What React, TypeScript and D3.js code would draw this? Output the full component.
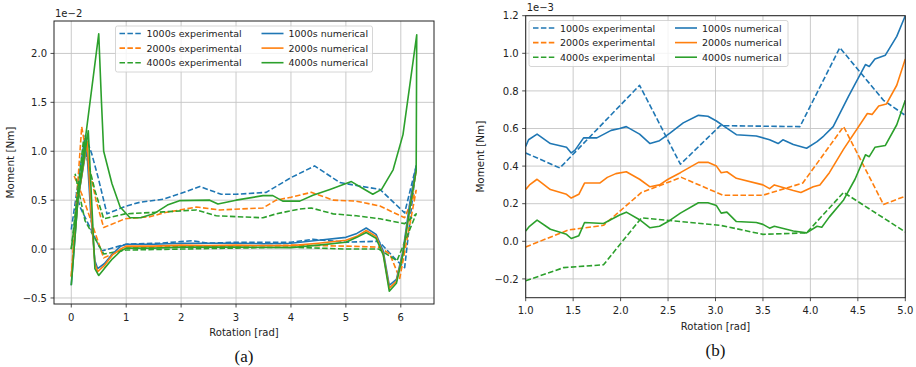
import * as d3 from "d3";

const BLUE = "#1f77b4";
const ORANGE = "#ff7f0e";
const GREEN = "#2ca02c";

const expLabels = ["1000s experimental", "2000s experimental", "4000s experimental"];
const numLabels = ["1000s numerical", "2000s numerical", "4000s numerical"];

// ---- panel (a): full rotation, moment in 1e-2 Nm
const aBlueExpX = [0.0, 0.25, 0.37, 0.49, 0.65, 1.0, 1.26, 1.68, 2.0, 2.34, 2.73, 3.0, 3.55, 4.0, 4.43, 4.89, 5.19, 5.62, 6.07, 6.28, 6.07, 5.93, 5.6, 5.0, 4.4, 4.0, 3.0, 2.5, 2.2, 1.6, 1.0, 0.55, 0.16, 0.08];
const aBlueExpY = [0.2, 1.16, 0.98, 0.73, 0.36, 0.44, 0.48, 0.51, 0.57, 0.64, 0.56, 0.56, 0.58, 0.73, 0.85, 0.68, 0.65, 0.61, 0.37, 0.85, -0.19, -0.12, 0.08, 0.07, 0.1, 0.07, 0.07, 0.06, 0.085, 0.06, 0.05, -0.02, 0.43, 0.6];
const aOrangeExpX = [0.0, 0.19, 0.3, 0.45, 0.59, 0.98, 1.43, 1.68, 2.28, 2.7, 3.49, 3.73, 4.0, 4.37, 4.77, 5.19, 5.62, 6.07, 6.28, 5.98, 5.8, 5.6, 5.0, 4.0, 3.0, 2.0, 1.0, 0.59, 0.2, 0.05];
const aOrangeExpY = [-0.28, 1.25, 0.9, 0.5, 0.22, 0.31, 0.33, 0.37, 0.43, 0.4, 0.42, 0.5, 0.53, 0.58, 0.5, 0.49, 0.44, 0.32, 0.6, -0.3, -0.05, 0.02, 0.03, 0.04, 0.03, 0.03, 0.01, -0.09, 0.55, 0.75];
const aGreenExpX = [0.0, 0.22, 0.3, 0.43, 0.59, 0.98, 1.68, 2.28, 2.64, 3.49, 3.73, 4.16, 4.37, 4.77, 5.19, 5.62, 6.07, 6.28, 5.93, 5.6, 5.0, 4.0, 3.0, 2.0, 1.0, 0.59, 0.25, 0.07];
const aGreenExpY = [0.0, 1.1, 0.9, 0.6, 0.31, 0.36, 0.38, 0.4, 0.34, 0.32, 0.36, 0.41, 0.42, 0.36, 0.34, 0.31, 0.26, 0.36, -0.12, 0.0, 0.0, 0.02, 0.01, 0.0, -0.01, -0.05, 0.29, 0.77];

const aBlueNumX = [0, 0.12, 0.28, 0.35, 0.43, 0.48, 0.6, 0.75, 0.9, 1.0, 1.5, 2.0, 2.5, 3.0, 3.5, 4.0, 4.5, 5.0, 5.2, 5.37, 5.55, 5.68, 5.79, 5.92, 6.04, 6.16, 6.28];
const aBlueNumY = [-0.37, 0.5, 1.05, 0.4, -0.12, -0.2, -0.15, -0.05, 0.03, 0.05, 0.05, 0.06, 0.06, 0.06, 0.055, 0.06, 0.09, 0.12, 0.16, 0.215, 0.15, -0.02, -0.37, -0.31, -0.02, 0.46, 0.85];
const aOrangeNumX = [0, 0.12, 0.29, 0.36, 0.43, 0.48, 0.6, 0.75, 0.9, 1.0, 1.5, 2.0, 2.5, 3.0, 3.5, 4.0, 4.5, 5.0, 5.2, 5.37, 5.55, 5.68, 5.79, 5.92, 6.04, 6.16, 6.28];
const aOrangeNumY = [-0.28, 0.5, 1.1, 0.4, -0.15, -0.23, -0.17, -0.06, 0.0, 0.03, 0.03, 0.04, 0.035, 0.04, 0.035, 0.035, 0.06, 0.09, 0.13, 0.19, 0.13, -0.05, -0.4, -0.33, -0.05, 0.4, 0.8];
const aGreenNumX = [0, 0.5, 0.55, 0.59, 0.74, 0.89, 1.07, 1.26, 1.5, 1.75, 1.97, 2.52, 2.67, 3.0, 3.49, 3.67, 3.85, 4.16, 4.4, 4.71, 5.1, 5.28, 5.49, 5.65, 5.86, 6.04, 6.29, 6.28, 6.16, 6.04, 5.92, 5.79, 5.68, 5.55, 5.37, 5.2, 5.0, 4.5, 4.0, 3.0, 2.0, 1.5, 1.0, 0.9, 0.75, 0.6, 0.5, 0.43, 0.31, 0.12, 0];
const aGreenNumY = [0.0, 2.2, 1.5, 1.0, 0.67, 0.43, 0.32, 0.32, 0.36, 0.45, 0.495, 0.5, 0.46, 0.5, 0.546, 0.546, 0.49, 0.49, 0.55, 0.61, 0.69, 0.63, 0.56, 0.61, 0.81, 1.17, 2.19, 0.8, 0.4, -0.05, -0.35, -0.43, -0.06, 0.11, 0.17, 0.12, 0.07, 0.04, 0.015, 0.02, 0.02, 0.01, 0.01, -0.02, -0.1, -0.2, -0.27, -0.2, 1.21, 0.5, -0.37];

// ---- panel (b): zoom on 1..5 rad, moment in 1e-3 Nm
const bBlueExpX = [1.0, 1.36, 2.2, 2.63, 3.05, 3.89, 4.31, 4.77, 5.0];
const bBlueExpY = [0.47, 0.39, 0.83, 0.41, 0.615, 0.61, 1.03, 0.75, 0.67];
const bOrangeExpX = [1.0, 1.45, 1.82, 2.22, 2.64, 3.08, 3.5, 3.92, 4.35, 4.77, 5.0];
const bOrangeExpY = [-0.03, 0.06, 0.085, 0.26, 0.34, 0.245, 0.245, 0.31, 0.61, 0.196, 0.24];
const bGreenExpX = [1.0, 1.4, 1.82, 2.22, 3.05, 3.5, 3.96, 4.35, 5.0];
const bGreenExpY = [-0.21, -0.14, -0.125, 0.125, 0.085, 0.037, 0.045, 0.26, 0.05];

const bBlueNumX = [1.0, 1.03, 1.12, 1.26, 1.43, 1.48, 1.52, 1.61, 1.75, 1.9, 1.99, 2.06, 2.2, 2.31, 2.41, 2.52, 2.66, 2.82, 2.92, 3.01, 3.08, 3.22, 3.43, 3.57, 3.66, 3.71, 3.82, 3.96, 4.07, 4.14, 4.24, 4.4, 4.58, 4.62, 4.68, 4.79, 4.91, 5.0];
const bBlueNumY = [0.505, 0.54, 0.57, 0.52, 0.5, 0.47, 0.485, 0.55, 0.55, 0.59, 0.6, 0.61, 0.57, 0.52, 0.535, 0.575, 0.63, 0.67, 0.665, 0.64, 0.615, 0.567, 0.56, 0.54, 0.52, 0.54, 0.515, 0.495, 0.53, 0.56, 0.61, 0.77, 0.94, 0.93, 0.97, 0.99, 1.09, 1.2];
const bOrangeNumX = [1.0, 1.04, 1.12, 1.26, 1.43, 1.48, 1.56, 1.62, 1.78, 1.86, 1.95, 2.06, 2.2, 2.31, 2.41, 2.5, 2.63, 2.82, 2.92, 3.01, 3.06, 3.12, 3.22, 3.5, 3.57, 3.62, 3.82, 3.9, 4.03, 4.1, 4.2, 4.35, 4.6, 4.65, 4.72, 4.8, 4.91, 5.0];
const bOrangeNumY = [0.275, 0.3, 0.33, 0.275, 0.25, 0.23, 0.25, 0.31, 0.31, 0.34, 0.36, 0.37, 0.33, 0.29, 0.3, 0.33, 0.365, 0.42, 0.42, 0.4, 0.365, 0.37, 0.335, 0.3, 0.28, 0.3, 0.27, 0.26, 0.29, 0.3, 0.365, 0.49, 0.68, 0.675, 0.72, 0.73, 0.83, 0.97];
const bGreenNumX = [1.0, 1.04, 1.12, 1.26, 1.43, 1.48, 1.56, 1.62, 1.82, 1.99, 2.06, 2.2, 2.31, 2.41, 2.5, 2.63, 2.82, 2.92, 3.01, 3.06, 3.12, 3.22, 3.43, 3.5, 3.57, 3.62, 3.82, 3.96, 4.07, 4.12, 4.2, 4.35, 4.47, 4.58, 4.62, 4.68, 4.79, 4.91, 5.0];
const bGreenNumY = [0.055, 0.08, 0.113, 0.064, 0.037, 0.015, 0.03, 0.1, 0.095, 0.14, 0.155, 0.115, 0.072, 0.08, 0.105, 0.15, 0.205, 0.205, 0.19, 0.15, 0.155, 0.105, 0.1, 0.09, 0.07, 0.08, 0.055, 0.045, 0.08, 0.075, 0.13, 0.22, 0.33, 0.46, 0.45, 0.5, 0.51, 0.62, 0.75];

const aTicksX = [0, 1, 2, 3, 4, 5, 6];
const aTicksY = [-0.5, 0, 0.5, 1.0, 1.5, 2.0];
const bTicksX = [1.0, 1.5, 2.0, 2.5, 3.0, 3.5, 4.0, 4.5, 5.0];
const bTicksY = [-0.2, 0, 0.2, 0.4, 0.6, 0.8, 1.0, 1.2];

type Series = { x: number[]; y: number[]; color: string; dashed: boolean };

const FONT = "DejaVu Sans";
const FS = 10;
const LEG_FS = 9.5;
const DASH = "5.5,2.4";

const minus = (s: string) => s.replace("-", "\u2212");

function Panel(props: {
  id: string;
  box: { left: number; top: number; right: number; bottom: number };
  xDomain: [number, number];
  yDomain: [number, number];
  xTicks: number[];
  yTicks: number[];
  xFmt: (v: number) => string;
  series: Series[];
  legend: { x: number; y: number; w: number };
  offset: string;
  caption: string;
  ylabelX: number;
}) {
  const { id, box, series, legend } = props;
  const x = d3.scaleLinear().domain(props.xDomain).range([box.left, box.right]);
  const y = d3.scaleLinear().domain(props.yDomain).range([box.bottom, box.top]);
  const line = d3
    .line<[number, number]>()
    .x((d) => x(d[0]))
    .y((d) => y(d[1]));
  const yFmt = d3.format(".1f");
  const cx = (box.left + box.right) / 2;
  const cy = (box.top + box.bottom) / 2;
  const colors = [BLUE, ORANGE, GREEN];

  return (
    <g fontFamily={FONT} fontSize={FS} fill="#222">
      <defs>
        <clipPath id={`clip-${id}`}>
          <rect x={box.left} y={box.top} width={box.right - box.left} height={box.bottom - box.top} />
        </clipPath>
      </defs>
      {/* grid */}
      {props.xTicks.map((t) => (
        <line key={`gx${t}`} x1={x(t)} x2={x(t)} y1={box.top} y2={box.bottom} stroke="#c4c4c4" strokeWidth={0.9} />
      ))}
      {props.yTicks.map((t) => (
        <line key={`gy${t}`} x1={box.left} x2={box.right} y1={y(t)} y2={y(t)} stroke="#c4c4c4" strokeWidth={0.9} />
      ))}
      {/* data */}
      <g clipPath={`url(#clip-${id})`} fill="none">
        {series.map((s, i) => (
          <path
            key={i}
            d={line(s.x.map((v, j) => [v, s.y[j]] as [number, number])) ?? ""}
            stroke={s.color}
            strokeWidth={1.6}
            strokeDasharray={s.dashed ? DASH : undefined}
            strokeLinejoin="round"
          />
        ))}
      </g>
      {/* frame */}
      <rect x={box.left} y={box.top} width={box.right - box.left} height={box.bottom - box.top} fill="none" stroke="#222" strokeWidth={1} />
      {/* ticks */}
      {props.xTicks.map((t) => (
        <g key={`tx${t}`}>
          <line x1={x(t)} x2={x(t)} y1={box.bottom} y2={box.bottom + 3.5} stroke="#222" strokeWidth={0.8} />
          <text x={x(t)} y={box.bottom + 16.5} textAnchor="middle">
            {props.xFmt(t)}
          </text>
        </g>
      ))}
      {props.yTicks.map((t) => (
        <g key={`ty${t}`}>
          <line x1={box.left - 3.5} x2={box.left} y1={y(t)} y2={y(t)} stroke="#222" strokeWidth={0.8} />
          <text x={box.left - 7} y={y(t) + 3.6} textAnchor="end">
            {minus(yFmt(t))}
          </text>
        </g>
      ))}
      <text x={box.left + 1} y={box.top - 4.5}>
        {props.offset}
      </text>
      <text x={cx} y={box.bottom + 32} textAnchor="middle">
        Rotation [rad]
      </text>
      <text transform={`translate(${props.ylabelX},${cy}) rotate(-90)`} textAnchor="middle" fontSize={10.4}>
        Moment [Nm]
      </text>
      {/* legend */}
      <rect x={legend.x} y={legend.y} width={legend.w} height={46} rx={2} fill="white" fillOpacity={0.8} stroke="#cccccc" strokeWidth={0.8} />
      {colors.map((c, i) => {
        const ry = legend.y + 7.5 + i * 14.6;
        return (
          <g key={`lg${i}`} fontSize={LEG_FS}>
            <line x1={legend.x + 4} x2={legend.x + 26} y1={ry} y2={ry} stroke={c} strokeWidth={1.6} strokeDasharray={DASH} />
            <text x={legend.x + 31} y={ry + 3.5}>
              {expLabels[i]}
            </text>
            <line x1={legend.x + 146} x2={legend.x + 168} y1={ry} y2={ry} stroke={c} strokeWidth={1.6} />
            <text x={legend.x + 173} y={ry + 3.5}>
              {numLabels[i]}
            </text>
          </g>
        );
      })}
      <text x={cx} y={box.bottom + 58} textAnchor="middle" fontFamily="Liberation Serif" fontSize={17} fill="#111">
        {props.caption}
      </text>
    </g>
  );
}

export default function App() {
  const aSeries: Series[] = [
    { x: aBlueExpX, y: aBlueExpY, color: BLUE, dashed: true },
    { x: aOrangeExpX, y: aOrangeExpY, color: ORANGE, dashed: true },
    { x: aGreenExpX, y: aGreenExpY, color: GREEN, dashed: true },
    { x: aBlueNumX, y: aBlueNumY, color: BLUE, dashed: false },
    { x: aOrangeNumX, y: aOrangeNumY, color: ORANGE, dashed: false },
    { x: aGreenNumX, y: aGreenNumY, color: GREEN, dashed: false },
  ];
  const bSeries: Series[] = [
    { x: bBlueExpX, y: bBlueExpY, color: BLUE, dashed: true },
    { x: bOrangeExpX, y: bOrangeExpY, color: ORANGE, dashed: true },
    { x: bGreenExpX, y: bGreenExpY, color: GREEN, dashed: true },
    { x: bBlueNumX, y: bBlueNumY, color: BLUE, dashed: false },
    { x: bOrangeNumX, y: bOrangeNumY, color: ORANGE, dashed: false },
    { x: bGreenNumX, y: bGreenNumY, color: GREEN, dashed: false },
  ];

  // matplotlib-style 5% autoscale margins for panel (a)
  const allX = aSeries.flatMap((s) => s.x);
  const allY = aSeries.flatMap((s) => s.y);
  const [x0, x1] = d3.extent(allX) as [number, number];
  const [y0, y1] = d3.extent(allY) as [number, number];
  const mx = (x1 - x0) * 0.05;
  const my = (y1 - y0) * 0.05;

  return (
    <svg width={916} height={367} style={{ position: "absolute", left: 0, top: 0, background: "white" }}>
      <Panel
        id="a"
        box={{ left: 54, top: 21, right: 434, bottom: 304 }}
        xDomain={[x0 - mx, x1 + mx]}
        yDomain={[y0 - my, y1 + my]}
        xTicks={aTicksX}
        yTicks={aTicksY}
        xFmt={(v) => String(v)}
        series={aSeries}
        legend={{ x: 115.5, y: 26, w: 257 }}
        offset={"1e\u22122"}
        caption="(a)"
        ylabelX={14}
      />
      <Panel
        id="b"
        box={{ left: 525.7, top: 15.7, right: 905.3, bottom: 297.7 }}
        xDomain={[1, 5]}
        yDomain={[-0.3, 1.2]}
        xTicks={bTicksX}
        yTicks={bTicksY}
        xFmt={d3.format(".1f")}
        series={bSeries}
        legend={{ x: 529, y: 20.5, w: 259 }}
        offset={"1e\u22123"}
        caption="(b)"
        ylabelX={484}
      />
    </svg>
  );
}
